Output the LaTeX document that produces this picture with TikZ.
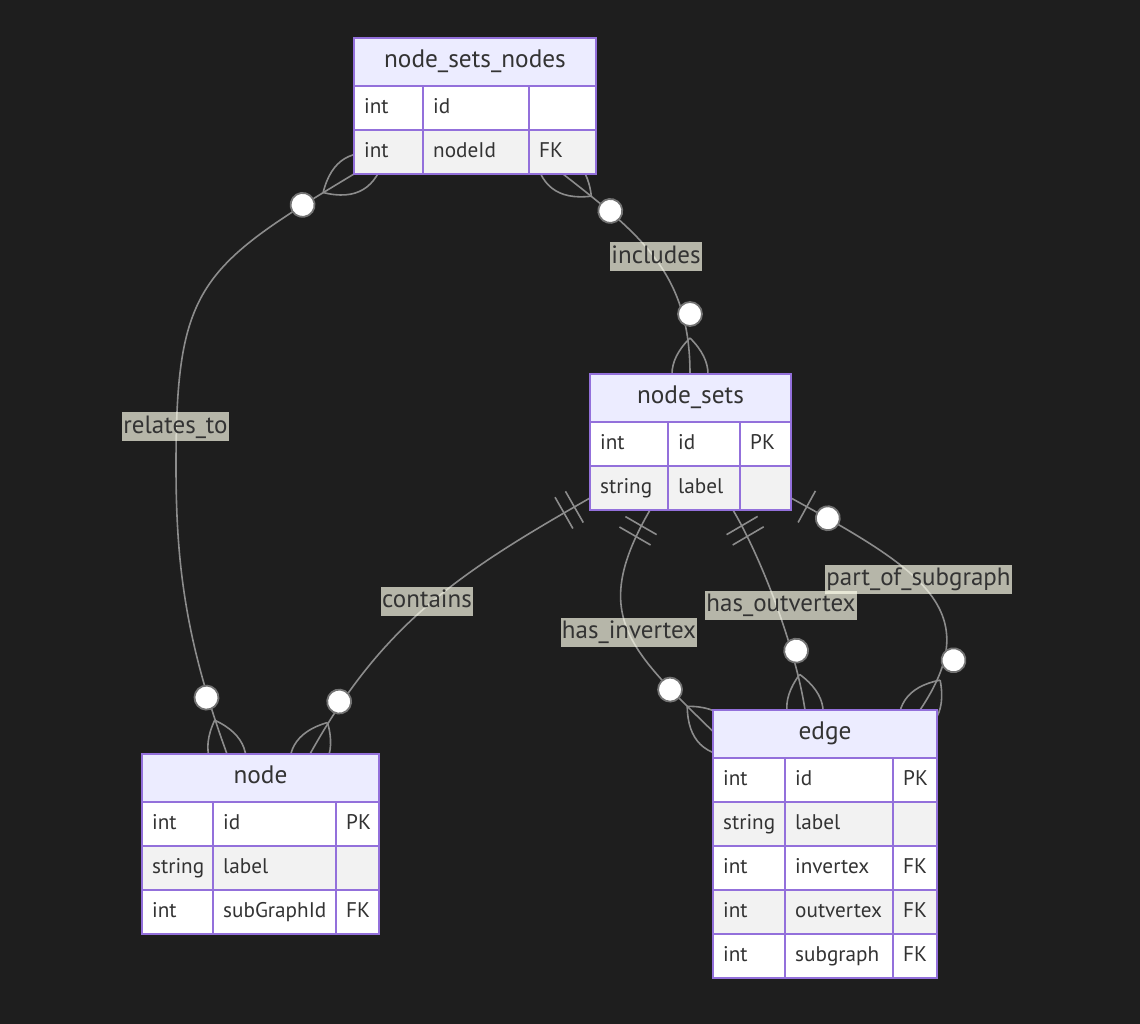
\documentclass[tikz,border=0pt]{standalone}
\usepackage{fontspec}
\setmainfont{PT Sans}
\usetikzlibrary{calc}
\definecolor{bgc}{RGB}{30,30,30}
\definecolor{purp}{HTML}{9370DB}
\definecolor{hdrfill}{HTML}{ECECFF}
\definecolor{rowalt}{HTML}{F2F2F2}
\definecolor{txt}{HTML}{333333}
\definecolor{linec}{RGB}{140,140,140}
\definecolor{circst}{RGB}{115,115,115}
\definecolor{lblfill}{RGB}{255,255,236}
\pgfdeclarelayer{bg}
\pgfdeclarelayer{conn}
\pgfsetlayers{bg,conn,main}
\tikzset{
  cellbox/.style={draw=purp, line width=1.6pt, inner sep=0pt, outer sep=0pt},
  celltext/.style={text=txt, font=\fontsize{21.2}{25}\selectfont, inner sep=0pt, anchor=west, text height=15pt, text depth=4.5pt},
  hdr/.style={draw=purp, line width=1.6pt, fill=hdrfill, text=txt, font=\fontsize{25.3}{30}\selectfont, inner sep=0pt, outer sep=0pt, minimum height=48pt, text height=17pt, text depth=5.5pt, anchor=north west},
  tblframe/.style={draw=purp, line width=2pt, inner sep=0pt, outer sep=0pt, anchor=north west},
  rel/.style={draw=linec, line width=1.6pt},
  circ/.style={draw=circst, fill=white, line width=1.8pt},
  lbl/.style={fill=lblfill, fill opacity=0.68, text opacity=1, text=txt, font=\fontsize{25}{30}\selectfont, inner xsep=1pt, inner ysep=0pt, minimum height=29pt, text height=18pt, text depth=5pt},
}
% name, x, y, w, h, fill, text
\newcommand{\cell}[7]{%
  \node[cellbox, fill=#6, minimum width=#4pt, minimum height=#5pt, anchor=north west] (#1) at (#2,-#3) {};
  \node[celltext] (#1-t) at ([xshift=10pt]#1.west) {#7};}
\newcommand{\mkcrow}[2]{\begin{scope}[shift={(#1)}, rotate=#2]
  \draw[rel] (36,0) .. controls (12,24) and (-12,24) .. (-36,0);
  \draw[rel] (36,0) .. controls (12,-24) and (-12,-24) .. (-36,0);
  \end{scope}}
\newcommand{\mkcirc}[3]{\begin{scope}[shift={(#1)}, rotate=#2]
  \draw[circ] (#3,0) circle[radius=12];
  \end{scope}}
\newcommand{\mktwobar}[2]{\begin{scope}[shift={(#1)}, rotate=#2]
  \draw[rel] (18,-18) -- (18,18);
  \draw[rel] (30,-18) -- (30,18);
  \end{scope}}
\newcommand{\mkonebar}[2]{\begin{scope}[shift={(#1)}, rotate=#2]
  \draw[rel] (18,-18) -- (18,18);
  \end{scope}}
\begin{document}
\begin{tikzpicture}[x=1pt, y=1pt]
\useasboundingbox (0,0) rectangle (1140,-1024);
\begin{pgfonlayer}{bg}
  \fill[bgc] (0,0) rectangle (1140,-1024);
\end{pgfonlayer}

% ---------- node_sets_nodes ----------
\node[hdr, minimum width=242pt] (nsn-h) at (354,-38) {node\_sets\_nodes};
\cell{nsn-11}{354}{86}{69}{44}{white}{int}
\cell{nsn-12}{423}{86}{106}{44}{white}{id}
\cell{nsn-13}{529}{86}{67}{44}{white}{}
\cell{nsn-21}{354}{130}{69}{44}{rowalt}{int}
\cell{nsn-22}{423}{130}{106}{44}{rowalt}{nodeId}
\cell{nsn-23}{529}{130}{67}{44}{rowalt}{FK}
\node[tblframe, minimum width=242pt, minimum height=136pt] (nsn) at (354,-38) {};

% ---------- node_sets ----------
\node[hdr, minimum width=201pt] (ns-h) at (590,-374) {node\_sets};
\cell{ns-11}{590}{422}{78}{44}{white}{int}
\cell{ns-12}{668}{422}{72}{44}{white}{id}
\cell{ns-13}{740}{422}{51}{44}{white}{PK}
\cell{ns-21}{590}{466}{78}{44}{rowalt}{string}
\cell{ns-22}{668}{466}{72}{44}{rowalt}{label}
\cell{ns-23}{740}{466}{51}{44}{rowalt}{}
\node[tblframe, minimum width=201pt, minimum height=136pt] (ns) at (590,-374) {};

% ---------- node ----------
\node[hdr, minimum width=237pt] (nd-h) at (142,-754) {node};
\cell{nd-11}{142}{802}{71}{44}{white}{int}
\cell{nd-12}{213}{802}{123}{44}{white}{id}
\cell{nd-13}{336}{802}{43}{44}{white}{PK}
\cell{nd-21}{142}{846}{71}{44}{rowalt}{string}
\cell{nd-22}{213}{846}{123}{44}{rowalt}{label}
\cell{nd-23}{336}{846}{43}{44}{rowalt}{}
\cell{nd-31}{142}{890}{71}{44}{white}{int}
\cell{nd-32}{213}{890}{123}{44}{white}{subGraphId}
\cell{nd-33}{336}{890}{43}{44}{white}{FK}
\node[tblframe, minimum width=237pt, minimum height=180pt] (nd) at (142,-754) {};

% ---------- edge ----------
\node[hdr, minimum width=224pt] (ed-h) at (713,-710) {edge};
\cell{ed-11}{713}{758}{72}{44}{white}{int}
\cell{ed-12}{785}{758}{108}{44}{white}{id}
\cell{ed-13}{893}{758}{44}{44}{white}{PK}
\cell{ed-21}{713}{802}{72}{44}{rowalt}{string}
\cell{ed-22}{785}{802}{108}{44}{rowalt}{label}
\cell{ed-23}{893}{802}{44}{44}{rowalt}{}
\cell{ed-31}{713}{846}{72}{44}{white}{int}
\cell{ed-32}{785}{846}{108}{44}{white}{invertex}
\cell{ed-33}{893}{846}{44}{44}{white}{FK}
\cell{ed-41}{713}{890}{72}{44}{rowalt}{int}
\cell{ed-42}{785}{890}{108}{44}{rowalt}{outvertex}
\cell{ed-43}{893}{890}{44}{44}{rowalt}{FK}
\cell{ed-51}{713}{934}{72}{44}{white}{int}
\cell{ed-52}{785}{934}{108}{44}{white}{subgraph}
\cell{ed-53}{893}{934}{44}{44}{white}{FK}
\node[tblframe, minimum width=224pt, minimum height=268pt] (ed) at (713,-710) {};

% ---------- connector end points ----------
\coordinate (nsnA) at (nsn.south west);
\coordinate (nsnB) at ($(nsn.south west)+(209,0)$);
\coordinate (nsTop) at ($(ns.north west)+(100,0)$);
\coordinate (nsC) at ($(ns.south west)+(0,12)$);
\coordinate (nsD) at ($(ns.south west)+(60,0)$);
\coordinate (nsE) at ($(ns.south west)+(143,0)$);
\coordinate (nsF) at ($(ns.south east)+(0,12)$);
\coordinate (ndA) at ($(nd.north west)+(85,0)$);
\coordinate (ndB) at ($(nd.north west)+(168,0)$);
\coordinate (edA) at ($(ed.north west)+(0,-21.5)$);
\coordinate (edB) at ($(ed.north west)+(92,0)$);
\coordinate (edC) at ($(ed.north west)+(207,0)$);
\coordinate (relmid) at (176,-466);

\begin{pgfonlayer}{conn}
  % relates_to
  \draw[rel] (nsnA) .. controls +(211:180) and +(90:180) .. (relmid)
                    .. controls +(270:100) and +(110:120) .. (ndA);
  % includes
  \draw[rel] (nsnB) .. controls +(322:100) and +(90:100) .. (nsTop);
  % contains
  \draw[rel] (nsC) .. controls +(209.7:150) and +(60.9:150) .. (ndB);
  % has_invertex
  \draw[rel] (nsD) .. controls +(240:120) and +(135.7:120) .. (edA);
  % has_outvertex
  \draw[rel] (nsE) .. controls +(300.4:60) and +(98.5:60) .. (edB);
  % part_of_subgraph
  \draw[rel] (nsF) .. controls +(331.2:150) and +(56:120) .. (edC);

  % markers
  \mkcrow{nsnA}{211} \mkcrow{ndA}{110}
  \mkcrow{nsnB}{322} \mkcrow{nsTop}{90}
  \mktwobar{nsC}{209.7} \mkcrow{ndB}{60.9}
  \mktwobar{nsD}{240} \mkcrow{edA}{135.7}
  \mktwobar{nsE}{300.4} \mkcrow{edB}{98.5}
  \mkonebar{nsF}{331.2} \mkcrow{edC}{56}

  \mkcirc{nsnA}{211}{60} \mkcirc{ndA}{110}{60}
  \mkcirc{nsnB}{322}{60} \mkcirc{nsTop}{90}{60}
  \mkcirc{ndB}{60.9}{60}
  \mkcirc{edA}{135.7}{60}
  \mkcirc{edB}{98.5}{60}
  \mkcirc{nsF}{331.2}{42} \mkcirc{edC}{56}{60}
\end{pgfonlayer}

% ---------- labels ----------
\node[lbl] (l-rel) at (175.5,-426.5) {relates\_to};
\node[lbl] (l-inc) at (656,-257) {includes};
\node[lbl] (l-con) at (427,-601) {contains};
\node[lbl] (l-inv) at (629,-632) {has\_invertex};
\node[lbl] (l-out) at (781,-605) {has\_outvertex};
\node[lbl] (l-pos) at (918.5,-579) {part\_of\_subgraph};
\end{tikzpicture}
\end{document}
